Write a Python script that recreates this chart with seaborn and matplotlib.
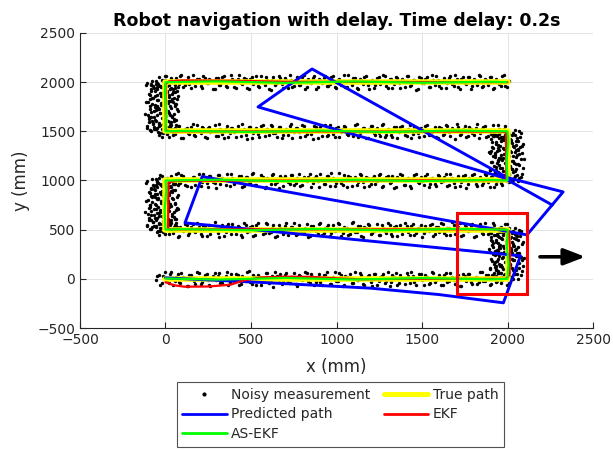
import matplotlib
matplotlib.use("Agg")
import matplotlib.pyplot as plt
import pandas as pd
import seaborn as sns
from matplotlib.patches import Rectangle
from matplotlib.lines import Line2D

# ---------------- trajectories (mm) ----------------
true_x = [0, 2000, 2000, 0, 0, 2000, 2000, 0, 0, 2000]
true_y = [0, 0, 500, 500, 1000, 1000, 1500, 1500, 2000, 2000]

pred_x = [0, 600, 1200, 1600, 1976, 2076, 114, 215, 2114, 2325, 1997, 857, 541, 1975, 2260]
pred_y = [10, -40, -95, -160, -244, 234, 569, 1040, 447, 884, 1030, 2134, 1748, 1030, 752]

ekf_x = [0, 50, 110, 250, 380, 460, 560, 700, 850, 1000, 1150, 1400, 1990, 2012, 2015, 2008,
         1985, 20, 15, 18, 60, 1995, 1993, 1992, 1960, 30, 2, 0, 20, 100, 400, 700, 2000]
ekf_y = [-35, -65, -80, -78, -60, -15, 15, 22, 20, 5, -5, 0, 0, 40, 300, 480,
         503, 503, 520, 980, 997, 1003, 1030, 1490, 1497, 1500, 1510, 1980, 2008, 2018, 2014, 2004, 2000]

asekf_x = [0, 300, 700, 1100, 1500, 1900, 2000, 2006, 1996, 2002,
           1700, 1300, 900, 500, 100, 0, -5, 5, 0,
           300, 700, 1100, 1500, 1900, 2000, 1994, 2005, 2000,
           1700, 1300, 900, 500, 100, 0, 5, -4, 0,
           300, 700, 1100, 1500, 1900, 1995]
asekf_y = [4, -8, 9, -7, 8, -5, 0, 150, 350, 500,
           508, 493, 507, 494, 505, 500, 700, 900, 1000,
           1008, 993, 1007, 994, 1006, 1000, 1200, 1400, 1500,
           1508, 1493, 1507, 1494, 1505, 1500, 1700, 1900, 2000,
           2008, 1993, 2007, 1994, 2004, 2000]

# ---------------- noisy position measurements ----------------
# horizontal legs: sample positions along x and the measured y offsets
row_x = [-58, -40, -31, -12, 4, 19, 33, 55, 71, 84, 102, 125, 139, 160, 171, 196, 214, 230, 251, 263,
         287, 305, 318, 342, 360, 377, 391, 415, 432, 447, 470, 486, 503, 525, 540, 558, 579, 594, 616, 631,
         652, 670, 688, 705, 726, 741, 763, 780, 798, 815, 834, 852, 871, 889, 905, 926, 944, 960, 981, 997,
         1015, 1037, 1052, 1070, 1091, 1108, 1126, 1145, 1162, 1184, 1199, 1218, 1236, 1255, 1273, 1290,
         1311, 1327, 1346, 1364, 1382, 1401, 1419, 1437, 1455, 1474, 1493, 1510, 1528, 1547, 1566, 1583,
         1602, 1620, 1639, 1657, 1675, 1694, 1712, 1730, 1749, 1767, 1786, 1803, 1822, 1841, 1858, 1877,
         1895, 1914, 1932, 1951, 1969, 1988, 2006]
row_x2 = [-50, -22, -3, 11, 26, 44, 63, 78, 93, 113, 131, 150, 166, 184, 205, 222, 241, 257, 275, 296,
          311, 330, 351, 368, 384, 403, 423, 440, 458, 478, 494, 514, 532, 549, 568, 587, 605, 623, 642, 661,
          679, 697, 715, 734, 752, 771, 789, 807, 825, 843, 862, 880, 897, 916, 935, 952, 970, 989, 1006,
          1026, 1044, 1061, 1080, 1099, 1117, 1135, 1154, 1173, 1191, 1209, 1227, 1246, 1264, 1282, 1300,
          1319, 1337, 1355, 1373, 1392, 1410, 1428, 1446, 1465, 1484, 1501, 1519, 1538, 1556, 1575, 1593,
          1611, 1630, 1648, 1666, 1685, 1703, 1721, 1740, 1758, 1777, 1795, 1813, 1832, 1850, 1868, 1886,
          1905, 1923, 1942, 1960, 1979, 1997]
row0_dy = [-12, 44, -61, 27, 8, -39, 70, -25, 51, -47, 19, -68, 36, 2, -53, 63, -30, 41, -15, -72, 55, 24,
           -44, 12, 67, -36, -5, 48, -58, 31, -21, 75, -49, 16, 39, -64, 6, 57, -33, -78, 29, 46, -18, 60,
           -41, 22, -55, 35, -9, 69, -27, 50, -62, 14, -37, 43, 73, -51, 20, -24, 58, -70, 33, 4, -46, 65,
           -14, 40, -59, 26, -32, 52, -66, 17, 45, -20, -74, 38, 61, -43, 10, -56, 30, 71, -28, -3, 47, -65,
           23, -38, 56, -11, 37, -60, 64, -22, 18, -52, 42, -76, 28, 53, -35, 7, -48, 66, -17, 34, -63, 25,
           -29, 59, -8, 49, -45]
row1_dy = [33, -57, 14, -26, 68, -42, 5, 52, -71, 24, -13, 46, -38, 61, -19, 29, -65, 41, 11, -49, 74, -31,
           20, -60, 37, -7, 55, -44, 26, -77, 48, -16, 35, -53, 63, 3, -34, 57, -22, 43, -68, 15, -40, 70,
           -10, 31, -56, 50, -27, 18, -73, 39, 9, -47, 66, -35, 23, -62, 45, -4, 58, -30, 13, -51, 72, -19,
           36, -66, 28, 54, -41, -15, 62, -54, 21, -33, 47, -69, 40, 1, -45, 67, -23, 34, -58, 16, 51, -37,
           -2, 44, -64, 30, -25, 59, -50, 12, 73, -39, 27, -61, 49, -14, 38, -72, 22, 56, -43, 8, -30, 64,
           -55, 19, -21, 53, -67]
row2_dy = [-48, 22, 59, -35, 11, -66, 41, -18, 73, -29, 50, -57, 7, 34, -43, 64, -12, 27, -71, 46, -24, 55,
           -38, 15, 69, -52, 30, -9, 47, -63, 36, -20, 61, -45, 4, 52, -74, 25, -32, 67, -15, 43, -59, 18,
           -40, 56, -26, 71, -50, 10, 38, -68, 28, -6, 63, -37, 49, -54, 21, -28, 75, -46, 14, 42, -61, 32,
           -17, 58, -70, 24, -34, 50, -3, 66, -57, 37, -22, 45, -64, 13, 60, -41, 26, -75, 53, -11, 35, -49,
           70, -31, 19, -58, 44, -8, 62, -44, 29, -67, 48, -19, 57, -36, 9, 68, -53, 31, -26, 51, -62, 16,
           -39, 74, -47, 40, -13]
row3_dy = [27, -40, 65, -14, 48, -61, 19, -32, 57, 3, -70, 38, -23, 71, -49, 12, 45, -58, 30, -8, 62, -43,
           24, -67, 52, -19, 36, -55, 9, 74, -34, 43, -64, 17, -27, 59, -47, 28, 66, -12, -53, 39, -36, 20,
           55, -72, 32, -5, 61, -44, 14, -29, 50, -63, 41, 6, -51, 69, -24, 34, -60, 23, 47, -38, -16, 64,
           -56, 11, 37, -69, 53, -21, 29, -46, 72, -33, 18, -59, 44, -2, 58, -41, 25, -66, 49, -15, 35, -52,
           67, -28, 8, -62, 42, -37, 60, -11, 31, -73, 46, -24, 54, -48, 21, -35, 70, -18, 39, -57, 13, 63,
           -42, 26, -65, 51, -30]
row4_dy = [-22, 53, -44, 16, 67, -31, 40, -63, 8, 58, -50, 26, -17, 72, -39, 33, -60, 47, -6, 21, -73, 44,
           -28, 61, -47, 14, 36, -56, 69, -21, 29, -66, 51, 2, -42, 63, -34, 19, -75, 48, -12, 39, -58, 25,
           70, -45, 11, -27, 56, -68, 34, -9, 60, -52, 22, 45, -37, -18, 65, -61, 31, 12, -48, 74, -25, 38,
           -70, 17, 52, -33, 6, -57, 43, -15, 68, -41, 27, -64, 50, -4, 33, -54, 62, -29, 20, -72, 41, -10,
           57, -46, 24, 66, -36, 15, -59, 46, -23, 71, -51, 30, -7, 55, -65, 37, -30, 64, -43, 18, 49, -69,
           28, -16, 59, -38, 10]
# (row level, sample positions, offsets) for each recorded pass over a horizontal leg
row_passes = [
    (0, row_x, row0_dy), (500, row_x, row1_dy), (1000, row_x, row2_dy),
    (1500, row_x, row3_dy), (2000, row_x, row4_dy),
    (0, row_x2, row3_dy), (500, row_x2, row4_dy), (1000, row_x2, row0_dy),
    (1500, row_x2, row1_dy), (2000, row_x2, row2_dy),
]

# vertical legs: positions along y and the measured x offsets
col_t = [-18, -5, 6, 14, 23, 35, 42, 51, 63, 70, 79, 91, 98, 107, 119, 126, 135, 147, 154, 163, 175, 182,
         191, 203, 210, 219, 231, 238, 247, 259, 266, 275, 287, 294, 303, 315, 322, 331, 343, 350, 359, 371,
         378, 387, 399, 406, 415, 427, 434, 443, 455, 462, 471, 483, 490, 499, 511, 518, 30, 88, 142, 196,
         250, 305, 360, 412, 466, 120, 228, 338]
col_t2 = [-10, 2, 10, 19, 28, 39, 47, 57, 66, 75, 85, 94, 103, 113, 123, 131, 141, 150, 159, 169, 179, 187,
          197, 206, 215, 225, 235, 243, 253, 262, 271, 281, 291, 299, 309, 318, 327, 337, 347, 355, 365, 374,
          383, 393, 403, 411, 421, 430, 439, 449, 459, 467, 477, 486, 495, 505, 515, 60, 110, 170, 222, 280,
          332, 395, 450, 25, 100, 260, 310, 480]
col0_dx = [-62, 35, -95, 12, -40, 78, -23, 55, -81, 4, -57, 41, -105, 26, -33, 88, -70, 17, -48, 63, -12,
           -88, 30, -54, 95, -27, 48, -75, 8, -39, 70, -100, 21, -60, 52, -18, -84, 37, -45, 82, -8, -66, 28,
           -92, 59, -31, 14, -52, 73, -77, 44, -15, -98, 33, -43, 66, -24, 10, -69, 50, -36, 85, -58, 20,
           -86, 39, -11, -73, 61, -47]
col1_dx = [-45, 18, -88, -20, 52, -67, 6, -110, 33, -38, -75, 25, -55, 60, -95, -12, 40, -70, 3, -102, 47,
           -30, -84, 14, -58, 68, -41, -6, -92, 29, -64, 55, -25, -115, 10, -50, 36, -80, -16, 72, -47, 21,
           -98, -34, 44, -60, 0, -87, 30, -22, -72, 58, -43, 15, -106, 38, -54, -9, -78, 26, -36, 64, -90, 8,
           -28, -66, 49, -52, 19, -83]
col2_dx = [-38, 60, -76, 22, -15, -92, 45, -55, 8, 83, -67, 31, -26, -104, 52, -44, 17, -80, 70, -10, -61,
           38, -96, 27, -33, 76, -50, 4, -85, 56, -20, -72, 42, -108, 13, -47, 64, -29, -89, 35, -58, 90, -6,
           -70, 48, -41, 20, -99, 58, -24, -64, 29, -52, 79, -13, -82, 41, -36, 66, -75, 11, -57, 33, -94, 50,
           -18, -68, 24, -46, 72]
col3_dx = [-30, 44, -82, 6, -57, -108, 27, -40, 62, -74, -15, 35, -96, 12, -63, 50, -22, -86, 40, -48, -117,
           19, -35, 71, -68, 2, -90, 31, -53, 57, -26, -79, 15, -101, 46, -44, -8, 66, -71, 23, -59, -93, 37,
           -18, 54, -84, 9, -47, 28, -65, 74, -33, -112, 21, -52, 43, -77, -3, 58, -39, -97, 16, -61, 34, -24,
           69, -87, 5, -45, 52]
# (leg x, start corner y, positions, offsets) for each recorded pass over a vertical leg
col_passes = [
    (2000, 0, col_t, col0_dx), (0, 500, col_t, col1_dx),
    (2000, 1000, col_t, col2_dx), (0, 1500, col_t, col3_dx),
    (2000, 0, col_t2, col2_dx), (0, 500, col_t2, col3_dx),
    (2000, 1000, col_t2, col0_dx), (0, 1500, col_t2, col1_dx),
]

# zoomed-in region and direction marker
box_xy = (1705, -152)
box_w, box_h = 409, 823
arrow_from = (2190, 224)
arrow_to = (2455, 224)

# ---------------- assemble measurement table ----------------
mx, my = [], []
for yr, xs, dys in row_passes:
    for x, d in zip(xs, dys):
        mx.append(x)
        my.append(yr + d)
for xc, y0, ts, dxs in col_passes:
    for t, d in zip(ts, dxs):
        mx.append(xc + d)
        my.append(y0 + t)
meas = pd.DataFrame({"x": mx, "y": my})

# ---------------- figure ----------------
sns.set_theme(style="white")
plt.rcParams["font.family"] = ["DejaVu Sans"]
dark = "#262626"

fig = plt.figure(figsize=(6.13, 4.5), dpi=100)
ax = fig.add_axes([0.1305, 0.2711, 0.8369, 0.6556])

sns.scatterplot(data=meas, x="x", y="y", color="black", s=6, linewidth=0, ax=ax, zorder=2)

def path(xs, ys, color, lw):
    df = pd.DataFrame({"x": xs, "y": ys})
    sns.lineplot(data=df, x="x", y="y", sort=False, estimator=None, color=color,
                 linewidth=lw, ax=ax, legend=False, zorder=3)

path(true_x, true_y, "#ffff00", 4.0)
path(pred_x, pred_y, "#0000ff", 2.1)
path(ekf_x, ekf_y, "#ff0000", 1.6)
path(asekf_x, asekf_y, "#00ff00", 1.6)

ax.add_patch(Rectangle(box_xy, box_w, box_h, fill=False, edgecolor="#ff0000", linewidth=2.2, zorder=5))
ax.annotate("", xy=arrow_to, xytext=arrow_from,
            arrowprops=dict(arrowstyle="-|>,head_length=0.65,head_width=0.25", color="black",
                            lw=2.6, mutation_scale=20, shrinkA=0, shrinkB=0), zorder=6)

ax.set_xlim(-500, 2500)
ax.set_ylim(-500, 2500)
ax.set_xticks(range(-500, 2501, 500))
ax.set_yticks(range(-500, 2501, 500))
ax.grid(True, color="#dedede", linewidth=0.6)
ax.set_axisbelow(True)
for side in ("top", "right"):
    ax.spines[side].set_visible(False)
for side in ("left", "bottom"):
    ax.spines[side].set_color(dark)
    ax.spines[side].set_linewidth(0.8)
ax.tick_params(direction="in", length=4, width=0.8, colors=dark, labelsize=10,
               bottom=True, left=True)

ax.set_xlabel("x (mm)", fontsize=12, color=dark, labelpad=8)
ax.set_ylabel("y (mm)", fontsize=12, color=dark, labelpad=5)
ax.set_title("Robot navigation with delay. Time delay: 0.2s", fontsize=12.5, fontweight="bold",
             color="black", pad=5)

handles = [
    Line2D([], [], ls="", marker=".", markersize=4, color="black"),
    Line2D([], [], color="#0000ff", lw=2.0),
    Line2D([], [], color="#00ff00", lw=2.0),
    Line2D([], [], color="#ffff00", lw=3.6),
    Line2D([], [], color="#ff0000", lw=2.0),
]
labels = ["Noisy measurement", "Predicted path", "AS-EKF", "True path", "EKF"]
leg = fig.legend(handles, labels, ncol=2, loc="upper center", bbox_to_anchor=(0.555, 0.151),
                 frameon=True, fancybox=False, fontsize=10, handlelength=3.2, handletextpad=0.3,
                 columnspacing=1.0, labelspacing=0.42, borderpad=0.4, borderaxespad=0)
leg.get_frame().set_edgecolor(dark)
leg.get_frame().set_linewidth(0.8)
for t in leg.get_texts():
    t.set_color(dark)

fig.savefig("out.png", dpi=100)
